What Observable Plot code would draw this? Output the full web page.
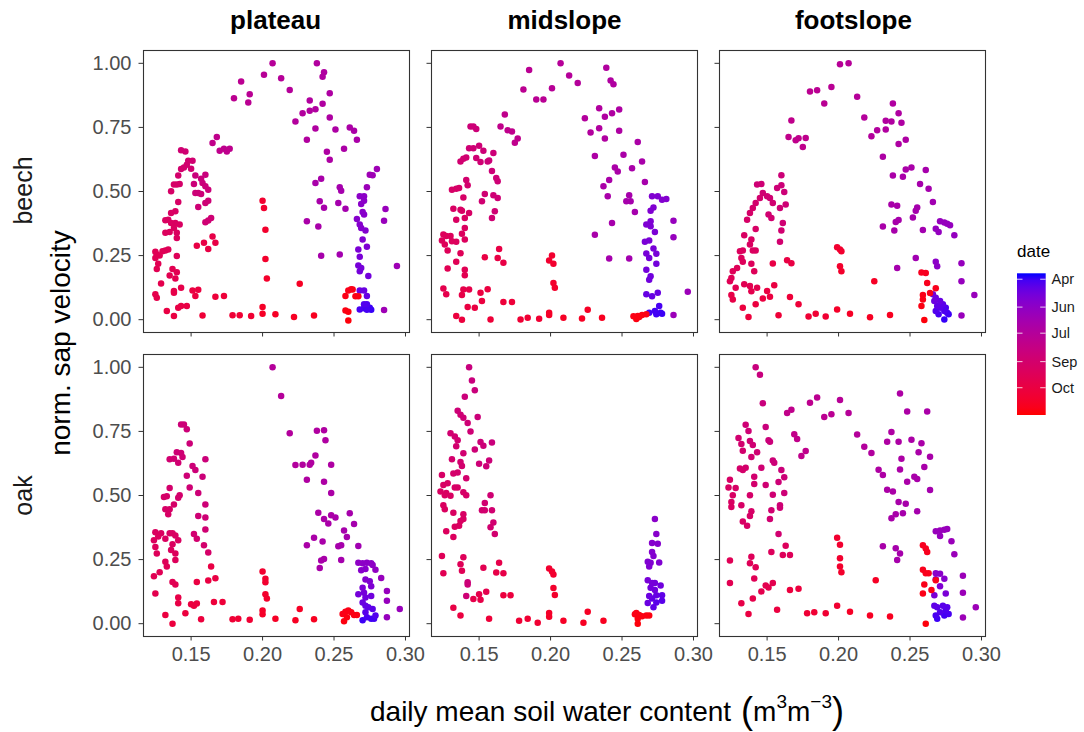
<!DOCTYPE html>
<html><head><meta charset="utf-8">
<script src="https://cdn.jsdelivr.net/npm/d3@7"></script>
<script src="https://cdn.jsdelivr.net/npm/@observablehq/plot@0.6"></script>
<style>
html,body{margin:0;padding:0;background:#fff;}
#wrap{position:relative;width:1084px;height:732px;overflow:hidden;background:#fff;font-family:"Liberation Sans",Arial,sans-serif;}
#wrap svg{position:absolute;left:0;top:0;}
</style></head><body><div id="wrap"></div>
<script>
const sites = ["plateau","midslope","footslope"];
const species = ["beech","oak"];
const xTicks = [0.15,0.20,0.25,0.30];
const yTicks = [0,0.25,0.5,0.75,1];
const dateDomain = [95, 334];
const legendTicks = [105,152,196,244,288];
const legendLabels = ["Apr","Jun","Jul","Sep","Oct"];

// [soil water content, normalised sap velocity, day of year]
const beechPlateau = [[0.207,1.00,198],[0.238,1.00,192],[0.201,0.955,200],[0.213,0.942,198],[0.243,0.965,190],[0.242,0.948,190],[0.185,0.929,205],[0.219,0.896,197],[0.191,0.879,203],[0.180,0.864,206],[0.190,0.847,204],[0.247,0.883,188],[0.233,0.855,192],[0.242,0.842,190],[0.228,0.805,193],[0.233,0.815,192],[0.237,0.821,191],[0.247,0.789,188],[0.223,0.773,194],[0.237,0.746,190],[0.251,0.742,186],[0.261,0.750,184],[0.264,0.737,183],[0.231,0.702,192],[0.266,0.702,182],[0.257,0.667,184],[0.245,0.655,188],[0.247,0.624,187],
[0.168,0.713,212],[0.165,0.689,213],[0.170,0.659,211],[0.173,0.667,210],[0.175,0.656,210],[0.177,0.667,209],
[0.280,0.588,168],[0.275,0.565,168],[0.277,0.563,168],[0.237,0.533,180],[0.241,0.550,180],[0.254,0.517,176],[0.255,0.503,176],[0.273,0.517,165],[0.253,0.455,176],[0.240,0.462,180],[0.243,0.437,179],[0.258,0.433,175],[0.231,0.384,182],[0.239,0.363,180],[0.241,0.249,178],[0.254,0.254,174],[0.286,0.432,162],[0.285,0.386,162],[0.294,0.209,168],[0.285,0.038,168],
[0.268,0.481,150],[0.271,0.481,150],[0.269,0.451,148],[0.271,0.464,149],[0.270,0.420,147],[0.271,0.410,146],[0.266,0.393,145],[0.268,0.371,144],[0.269,0.358,143],[0.272,0.348,142],[0.270,0.313,140],[0.273,0.284,138],[0.267,0.274,137],[0.268,0.245,135],[0.267,0.211,133],[0.269,0.202,132],[0.268,0.189,131],[0.274,0.170,130],[0.268,0.114,125],[0.271,0.114,124],[0.273,0.092,122],
[0.268,0.040,108],[0.271,0.045,106],[0.273,0.060,110],[0.275,0.047,104],[0.276,0.039,102],[0.273,0.039,107],[0.271,0.060,112],
[0.260,0.114,322],[0.262,0.119,322],[0.263,0.118,323],[0.258,0.092,324],[0.265,0.091,325],[0.267,0.091,325],[0.258,0.036,327],[0.260,0.031,328],[0.260,-0.003,330],
[0.200,0.464,305],[0.201,0.436,306],[0.202,0.351,307],[0.202,0.237,308],[0.203,0.161,309],[0.200,0.049,312],[0.200,0.023,313],[0.226,0.140,315],
[0.179,0.017,300],[0.184,0.017,301],[0.192,0.014,302],[0.209,0.021,314],[0.222,0.010,316],[0.236,0.016,318],[0.158,0.016,298],
[0.167,0.089,295],[0.173,0.092,296],[0.154,0.288,285],[0.159,0.300,284],[0.162,0.276,285],[0.165,0.324,283],[0.167,0.300,284],[0.151,0.114,290],[0.153,0.092,291],[0.155,0.117,290],
[0.143,0.661,238],[0.146,0.656,238],[0.148,0.620,240],[0.151,0.620,240],[0.147,0.604,241],[0.145,0.594,242],[0.143,0.588,243],[0.150,0.589,241],[0.141,0.562,245],[0.140,0.527,248],[0.138,0.527,249],[0.142,0.529,247],[0.136,0.501,250],[0.141,0.459,252],
[0.139,0.423,254],[0.136,0.416,255],[0.134,0.390,256],[0.132,0.388,257],[0.136,0.377,257],[0.139,0.377,256],[0.142,0.371,255],[0.138,0.358,258],[0.140,0.339,258],[0.140,0.319,259],[0.135,0.342,259],[0.132,0.339,260],
[0.153,0.562,228],[0.157,0.550,228],[0.158,0.533,229],[0.160,0.565,227],[0.160,0.520,230],[0.152,0.529,230],[0.162,0.507,231],[0.153,0.494,232],[0.155,0.494,232],[0.157,0.490,233],[0.162,0.464,234],[0.160,0.455,234],[0.155,0.440,235],[0.164,0.397,236],[0.162,0.387,237],[0.160,0.380,237],
[0.125,0.265,268],[0.126,0.254,268],[0.125,0.241,269],[0.128,0.250,268],[0.130,0.267,267],[0.132,0.270,266],[0.134,0.274,266],[0.127,0.218,270],[0.126,0.198,271],[0.140,0.248,265],[0.137,0.198,272],[0.140,0.185,272],[0.135,0.172,273],[0.139,0.161,274],[0.129,0.141,276],[0.125,0.099,278],[0.126,0.086,279],[0.138,0.112,280],[0.138,0.105,281],[0.143,0.125,280],[0.141,0.047,284],[0.143,0.053,285],[0.147,0.053,286],[0.133,0.034,287],[0.138,0.014,288]];

const beechMidslope = [[0.207,1.00,198],[0.239,0.983,192],[0.185,0.974,204],[0.213,0.952,197],[0.219,0.923,196],[0.242,0.933,190],[0.244,0.918,190],[0.201,0.903,200],[0.181,0.898,205],[0.190,0.859,203],[0.195,0.859,202],[0.234,0.825,192],[0.248,0.820,188],[0.243,0.805,189],[0.238,0.792,190],[0.168,0.800,212],[0.224,0.786,194],[0.234,0.747,191],[0.248,0.737,188],[0.228,0.730,193],[0.238,0.707,190],[0.165,0.754,213],[0.170,0.739,212],[0.173,0.734,211],[0.177,0.707,210],[0.175,0.690,211],[0.261,0.693,184],[0.231,0.638,186],[0.251,0.643,183],[0.264,0.617,180],[0.257,0.591,181],[0.245,0.594,183],[0.247,0.578,183],[0.266,0.537,178],[0.241,0.545,182],[0.237,0.520,182],[0.240,0.481,181],[0.255,0.485,178],[0.253,0.462,178],[0.256,0.462,177],[0.259,0.420,176],[0.243,0.377,178],[0.231,0.331,180],[0.241,0.239,176],[0.255,0.239,174],[0.286,0.386,160],[0.286,0.322,160],[0.296,0.109,165],[0.286,0.018,165],
[0.271,0.481,140],[0.275,0.481,140],[0.278,0.468,142],[0.281,0.471,142],[0.272,0.438,140],[0.270,0.425,140],[0.270,0.384,138],[0.267,0.371,138],[0.270,0.364,137],[0.273,0.342,136],[0.269,0.309,135],[0.266,0.304,135],[0.272,0.278,134],[0.267,0.258,133],[0.269,0.241,132],[0.274,0.257,133],[0.274,0.218,130],[0.267,0.195,130],[0.270,0.169,128],[0.269,0.156,128],[0.267,0.099,122],[0.271,0.091,122],[0.275,0.105,123],
[0.269,0.027,106],[0.273,0.034,106],[0.276,0.053,108],[0.277,0.027,104],[0.278,0.023,104],[0.274,0.021,105],
[0.258,0.013,325],[0.261,0.014,325],[0.264,0.018,326],[0.267,0.021,326],[0.260,0.003,327],[0.262,0.010,327],
[0.201,0.250,305],[0.199,0.231,306],[0.202,0.218,306],[0.202,0.143,308],[0.203,0.125,308],[0.199,0.027,312],[0.199,0.018,312],[0.226,0.039,314],
[0.179,0.001,300],[0.184,0.008,301],[0.192,0.004,302],[0.209,0.008,314],[0.222,0.005,316],[0.236,0.008,318],[0.158,0.001,297],
[0.167,0.069,295],[0.173,0.069,296],[0.164,0.276,284],[0.167,0.222,285],[0.163,0.241,285],[0.154,0.244,286],[0.151,0.105,290],[0.152,0.073,291],[0.156,0.119,290],[0.142,0.049,288],[0.147,0.047,289],[0.134,0.014,292],[0.138,0.000,293],
[0.144,0.754,232],[0.146,0.754,232],[0.148,0.744,233],[0.143,0.669,236],[0.146,0.669,236],[0.150,0.678,235],[0.153,0.659,234],[0.148,0.631,237],[0.151,0.615,237],[0.137,0.617,240],[0.139,0.628,240],[0.141,0.633,239],[0.157,0.621,233],[0.156,0.617,233],[0.160,0.650,232],[0.159,0.580,234],[0.162,0.553,235],[0.163,0.540,235],[0.141,0.545,243],[0.142,0.524,244],[0.131,0.507,250],[0.134,0.511,249],[0.136,0.514,248],[0.139,0.477,250],[0.154,0.490,238],[0.152,0.462,239],[0.160,0.485,236],[0.163,0.475,236],[0.161,0.423,237],[0.159,0.397,238],[0.132,0.433,254],[0.137,0.429,253],[0.138,0.425,253],[0.140,0.397,255],[0.134,0.390,256],[0.143,0.416,252],[0.140,0.358,258],[0.138,0.335,259],[0.140,0.313,260],[0.125,0.332,262],[0.127,0.326,262],[0.130,0.326,262],[0.124,0.309,263],[0.126,0.293,264],[0.128,0.270,265],[0.131,0.306,262],[0.134,0.304,261],[0.137,0.259,266],[0.134,0.226,268],[0.128,0.200,270],[0.140,0.195,270],[0.140,0.173,272],[0.125,0.122,276],[0.127,0.099,278],[0.139,0.118,280],[0.143,0.118,280],[0.138,0.096,282]];

const beechFootslope = [[0.201,0.996,200],[0.207,1.00,198],[0.195,0.908,202],[0.180,0.890,205],[0.185,0.895,204],[0.190,0.843,203],[0.213,0.870,197],[0.238,0.843,190],[0.242,0.805,189],[0.167,0.777,212],[0.218,0.789,195],[0.233,0.776,191],[0.237,0.773,190],[0.244,0.768,188],[0.227,0.739,193],[0.233,0.742,191],[0.223,0.716,194],[0.165,0.713,213],[0.170,0.700,212],[0.172,0.708,211],[0.177,0.709,210],[0.175,0.674,211],[0.247,0.702,187],[0.242,0.685,188],[0.231,0.636,186],[0.238,0.562,182],[0.245,0.558,181],[0.247,0.586,182],[0.251,0.594,181],[0.261,0.584,178],[0.257,0.529,178],[0.263,0.511,176],[0.266,0.459,172],[0.237,0.449,180],[0.241,0.444,180],[0.255,0.438,177],[0.254,0.425,177],[0.252,0.399,177],[0.242,0.389,179],[0.240,0.381,179],[0.231,0.363,181],[0.239,0.348,179],[0.259,0.350,174],[0.271,0.384,160],[0.274,0.379,160],[0.276,0.374,159],[0.278,0.368,159],[0.268,0.355,158],[0.270,0.342,158],[0.281,0.329,158],[0.254,0.241,172],[0.241,0.202,176],[0.268,0.226,150],[0.269,0.208,150],[0.286,0.220,160],[0.286,0.150,160],[0.295,0.096,162],[0.286,0.016,162],
[0.266,0.099,130],[0.267,0.073,125],[0.269,0.053,118],[0.271,0.047,115],[0.274,0.034,110],[0.276,0.027,106],[0.277,0.021,104],[0.274,0.001,102],[0.270,0.021,108],[0.268,0.034,112],[0.273,0.060,116],[0.275,0.047,110],[0.268,0.086,128],[0.271,0.073,122],
[0.258,0.184,318],[0.261,0.182,318],[0.262,0.143,320],[0.268,0.123,321],[0.264,0.104,322],[0.259,0.096,323],[0.259,0.079,324],[0.258,0.053,326],[0.260,-0.001,330],
[0.199,0.283,305],[0.201,0.274,305],[0.202,0.267,306],[0.201,0.208,307],[0.202,0.189,308],[0.225,0.150,314],[0.199,0.040,311],[0.208,0.023,313],[0.222,0.009,316],[0.236,0.018,318],[0.191,0.012,302],[0.184,0.023,301],[0.179,0.012,300],[0.158,0.017,297],[0.137,0.010,294],[0.166,0.088,296],[0.172,0.060,297],[0.164,0.232,286],[0.167,0.220,286],[0.154,0.219,284],[0.155,0.134,288],[0.152,0.089,290],[0.150,0.112,289],[0.147,0.083,290],[0.142,0.060,291],[0.133,0.047,292],[0.125,0.096,282],[0.126,0.079,283],
[0.160,0.563,232],[0.143,0.527,236],[0.146,0.529,236],[0.157,0.514,234],[0.160,0.524,233],[0.162,0.498,233],[0.147,0.494,238],[0.150,0.481,238],[0.152,0.475,238],[0.154,0.455,239],[0.145,0.475,242],[0.142,0.455,244],[0.140,0.436,246],[0.138,0.416,248],[0.159,0.436,236],[0.163,0.449,235],[0.151,0.410,240],[0.153,0.397,240],[0.161,0.377,238],[0.160,0.348,240],[0.159,0.304,242],[0.136,0.390,250],[0.142,0.354,252],[0.134,0.329,255],[0.139,0.313,256],[0.138,0.293,257],[0.131,0.267,260],[0.133,0.270,259],[0.140,0.270,258],[0.142,0.270,258],[0.132,0.241,262],[0.133,0.226,263],[0.129,0.202,265],[0.126,0.189,266],[0.125,0.163,268],[0.124,0.150,269],[0.128,0.125,272],[0.134,0.138,271],[0.138,0.131,272],[0.143,0.125,274],[0.139,0.111,276],[0.139,0.218,262],[0.141,0.189,265]];

const oakPlateau = [[0.207,1.00,196],[0.213,0.888,196],[0.219,0.743,194],[0.238,0.753,190],[0.243,0.755,189],[0.244,0.716,189],[0.237,0.656,190],[0.234,0.628,190],[0.233,0.620,190],[0.223,0.619,193],[0.228,0.620,192],[0.248,0.620,188],[0.231,0.561,189],[0.243,0.554,186],[0.248,0.510,184],[0.239,0.433,184],[0.248,0.423,182],[0.251,0.414,181],[0.243,0.408,183],[0.246,0.391,182],[0.261,0.431,178],[0.264,0.389,176],[0.257,0.363,178],[0.259,0.338,177],[0.236,0.335,182],[0.242,0.321,181],[0.231,0.306,183],[0.253,0.302,178],[0.255,0.306,178],[0.267,0.303,172],[0.243,0.252,180],[0.241,0.246,180],[0.255,0.248,176],[0.240,0.217,180],
[0.267,0.238,152],[0.270,0.236,150],[0.273,0.238,150],[0.276,0.236,150],[0.277,0.229,152],[0.269,0.208,146],[0.272,0.213,146],[0.279,0.210,155],[0.283,0.178,160],[0.272,0.172,142],[0.275,0.166,140],[0.276,0.146,138],[0.270,0.140,136],[0.267,0.115,132],[0.271,0.121,132],[0.272,0.102,128],[0.276,0.108,128],[0.270,0.083,124],[0.272,0.070,120],[0.274,0.064,118],[0.277,0.057,116],[0.279,0.032,112],[0.273,0.025,108],[0.270,0.013,104],[0.276,0.019,106],[0.278,0.019,106],[0.272,0.045,114],[0.287,0.127,160],[0.287,0.089,160],[0.287,0.025,160],[0.296,0.057,162],
[0.256,0.038,324],[0.258,0.047,324],[0.260,0.051,325],[0.262,0.045,325],[0.264,0.034,326],[0.266,0.034,326],[0.257,0.009,328],[0.259,0.025,327],
[0.200,0.204,305],[0.202,0.175,306],[0.202,0.162,306],[0.202,0.115,308],[0.203,0.098,308],[0.200,0.051,311],[0.200,0.037,312],[0.226,0.057,314],[0.223,0.013,316],[0.236,0.017,318],[0.209,0.019,313],[0.179,0.017,300],[0.183,0.019,301],[0.191,0.015,302],[0.166,0.085,295],[0.172,0.085,296],[0.164,0.223,286],[0.167,0.177,287],[0.162,0.168,288],[0.154,0.163,288],[0.154,0.079,290],[0.157,0.017,293],[0.150,0.076,290],[0.152,0.070,291],[0.146,0.041,292],[0.141,0.102,282],[0.141,0.080,284],[0.132,0.034,290],[0.137,0.000,292],
[0.143,0.777,232],[0.145,0.777,232],[0.147,0.758,232],[0.149,0.703,232],[0.140,0.669,236],[0.143,0.666,236],[0.144,0.650,237],[0.135,0.641,240],[0.138,0.643,239],[0.141,0.628,239],[0.160,0.641,230],[0.151,0.615,232],[0.153,0.599,232],[0.147,0.577,235],[0.158,0.573,231],[0.149,0.531,236],[0.155,0.510,234],[0.135,0.529,244],[0.131,0.494,248],[0.133,0.497,247],[0.142,0.501,244],[0.141,0.491,244],[0.138,0.465,248],[0.135,0.446,250],[0.132,0.446,251],[0.134,0.427,252],[0.160,0.465,234],[0.155,0.420,236],[0.160,0.414,236],[0.160,0.367,238],[0.152,0.350,240],[0.154,0.331,242],[0.159,0.306,244],[0.162,0.278,248],[0.125,0.357,258],[0.129,0.353,258],[0.127,0.340,259],[0.124,0.325,260],[0.125,0.299,262],[0.126,0.274,264],[0.132,0.331,258],[0.135,0.353,256],[0.137,0.353,256],[0.139,0.344,256],[0.141,0.325,257],[0.137,0.310,258],[0.136,0.287,260],[0.139,0.274,261],[0.139,0.248,263],[0.132,0.242,265],[0.133,0.223,266],[0.128,0.201,268],[0.124,0.185,270],[0.137,0.163,270],[0.139,0.153,271],[0.125,0.118,275]];

const oakMidslope = [[0.143,1.00,226],[0.145,0.949,227],[0.147,0.911,228],[0.140,0.885,230],[0.135,0.831,234],[0.137,0.815,235],[0.139,0.803,235],[0.142,0.783,235],[0.149,0.806,230],[0.144,0.750,236],[0.130,0.743,240],[0.133,0.730,240],[0.135,0.716,240],[0.134,0.692,242],[0.151,0.709,232],[0.153,0.694,232],[0.147,0.679,234],[0.159,0.707,228],[0.139,0.665,240],[0.131,0.641,244],[0.137,0.631,242],[0.138,0.615,243],[0.157,0.637,232],[0.155,0.614,233],[0.150,0.624,234],[0.132,0.586,246],[0.135,0.590,245],[0.141,0.567,244],[0.124,0.580,252],[0.125,0.541,254],[0.128,0.548,253],[0.127,0.510,255],[0.130,0.499,255],[0.123,0.516,256],[0.133,0.531,252],[0.135,0.531,251],[0.139,0.513,250],[0.141,0.501,249],[0.126,0.501,256],[0.158,0.501,238],[0.154,0.471,240],[0.152,0.442,242],[0.154,0.442,242],[0.159,0.442,240],[0.125,0.462,258],[0.126,0.446,258],[0.132,0.433,256],[0.139,0.427,254],[0.139,0.408,255],[0.137,0.401,256],[0.133,0.378,258],[0.136,0.382,257],[0.132,0.338,260],[0.127,0.361,260],[0.160,0.395,240],[0.158,0.376,241],[0.161,0.350,242],[0.124,0.264,266],[0.125,0.197,270],[0.139,0.259,264],[0.137,0.232,266],[0.138,0.206,268],[0.153,0.218,272],[0.164,0.238,280],[0.167,0.197,282],[0.162,0.200,282],[0.142,0.162,232],[0.142,0.153,233],[0.141,0.108,235],[0.146,0.096,280],[0.150,0.115,278],[0.151,0.093,282],[0.155,0.125,276],[0.167,0.111,292],[0.172,0.111,292],[0.132,0.062,285],[0.137,0.032,290],[0.157,0.019,296],[0.178,0.011,300],[0.184,0.019,301],[0.191,0.004,302],[0.209,0.011,313],[0.223,0.004,316],[0.237,0.011,318],[0.199,0.215,305],[0.201,0.204,306],[0.202,0.192,306],[0.202,0.139,308],[0.203,0.112,308],[0.199,0.042,311],[0.199,0.027,312],[0.226,0.047,314],
[0.259,0.037,325],[0.260,0.042,325],[0.262,0.034,326],[0.264,0.029,326],[0.267,0.032,326],[0.269,0.032,327],[0.261,0.019,328],[0.261,0.000,330],
[0.273,0.408,148],[0.274,0.350,146],[0.271,0.315,144],[0.275,0.312,144],[0.271,0.280,142],[0.272,0.264,142],[0.268,0.242,140],[0.270,0.238,140],[0.269,0.223,140],[0.276,0.239,140],[0.268,0.169,134],[0.271,0.159,132],[0.273,0.159,130],[0.277,0.149,128],[0.270,0.140,130],[0.273,0.131,128],[0.269,0.108,125],[0.274,0.111,122],[0.278,0.111,118],[0.271,0.098,120],[0.274,0.083,116],[0.278,0.089,115],[0.268,0.081,124],[0.272,0.064,118]];

const oakFootslope = [[0.142,1.00,226],[0.145,0.971,226],[0.147,0.860,227],[0.243,0.898,186],[0.248,0.828,185],[0.262,0.828,182],[0.180,0.862,208],[0.185,0.882,206],[0.201,0.873,200],[0.190,0.806,205],[0.195,0.817,204],[0.207,0.822,198],[0.164,0.822,214],[0.167,0.834,212],[0.149,0.767,228],[0.135,0.776,236],[0.137,0.752,236],[0.130,0.724,240],[0.132,0.701,242],[0.133,0.675,243],[0.138,0.713,238],[0.140,0.697,238],[0.143,0.669,238],[0.151,0.716,230],[0.152,0.710,230],[0.169,0.739,214],[0.171,0.720,213],[0.177,0.674,212],[0.174,0.654,212],[0.213,0.738,196],[0.218,0.690,194],[0.223,0.666,192],[0.237,0.748,188],[0.242,0.710,186],[0.234,0.710,188],[0.251,0.717,184],[0.258,0.704,182],[0.256,0.669,182],[0.264,0.651,180],[0.244,0.643,185],[0.260,0.611,180],[0.243,0.601,184],[0.228,0.600,188],[0.231,0.580,186],[0.253,0.573,180],[0.255,0.564,180],[0.248,0.554,182],[0.264,0.521,176],[0.234,0.522,184],[0.238,0.516,183],[0.242,0.475,180],[0.247,0.468,179],[0.255,0.439,176],[0.237,0.411,180],[0.240,0.427,180],[0.245,0.431,178],
[0.154,0.637,232],[0.155,0.628,232],[0.160,0.599,230],[0.139,0.650,240],[0.131,0.605,246],[0.133,0.599,246],[0.135,0.608,245],[0.146,0.608,238],[0.141,0.573,242],[0.149,0.541,238],[0.158,0.553,234],[0.162,0.571,232],[0.124,0.561,252],[0.123,0.531,254],[0.128,0.529,252],[0.126,0.501,254],[0.125,0.475,256],[0.125,0.455,257],[0.141,0.545,244],[0.138,0.501,248],[0.132,0.462,252],[0.139,0.439,250],[0.138,0.420,251],[0.133,0.399,253],[0.136,0.382,252],[0.154,0.503,238],[0.159,0.462,236],[0.159,0.452,236],[0.153,0.442,240],[0.152,0.408,240],[0.162,0.510,234],[0.158,0.350,240],
[0.163,0.304,262],[0.166,0.268,265],[0.161,0.268,264],[0.153,0.280,262],[0.124,0.246,268],[0.124,0.159,272],[0.139,0.261,264],[0.138,0.236,266],[0.142,0.220,266],[0.141,0.176,268],[0.140,0.098,280],[0.132,0.080,282],[0.137,0.038,288],[0.146,0.126,276],[0.149,0.149,275],[0.151,0.141,276],[0.154,0.159,275],[0.157,0.054,290],[0.166,0.131,292],[0.172,0.136,292],[0.178,0.041,300],[0.183,0.045,301],[0.191,0.041,302],[0.199,0.070,304],[0.208,0.047,313],[0.222,0.032,316],[0.236,0.028,318],[0.199,0.335,305],[0.201,0.308,305],[0.201,0.255,306],[0.201,0.223,307],[0.202,0.201,308],[0.226,0.169,314],
[0.231,0.302,180],[0.240,0.294,178],[0.243,0.274,178],[0.241,0.248,178],
[0.259,0.306,318],[0.261,0.293,318],[0.262,0.280,319],[0.259,0.210,321],[0.261,0.197,321],[0.263,0.197,322],[0.260,0.153,323],[0.259,0.118,324],[0.265,0.131,324],[0.268,0.169,322],[0.261,0.000,330],
[0.268,0.361,162],[0.271,0.363,162],[0.274,0.366,162],[0.276,0.369,162],[0.271,0.342,160],[0.279,0.322,164],[0.281,0.271,164],[0.287,0.187,165],[0.287,0.121,165],[0.296,0.064,166],[0.287,0.024,166],
[0.268,0.197,148],[0.271,0.195,148],[0.274,0.175,145],[0.268,0.173,145],[0.271,0.146,140],[0.267,0.111,135],[0.275,0.118,135],
[0.267,0.070,118],[0.269,0.064,116],[0.273,0.070,115],[0.275,0.051,110],[0.277,0.038,108],[0.274,0.032,106],[0.271,0.045,112],[0.269,0.019,104],[0.268,0.032,108],[0.276,0.064,114]];

const panels = [
  ["plateau","beech",beechPlateau],["midslope","beech",beechMidslope],["footslope","beech",beechFootslope],
  ["plateau","oak",oakPlateau],["midslope","oak",oakMidslope],["footslope","oak",oakFootslope]
];
const rows = [];
for (const [site, sp, arr] of panels) for (const [swc, sap, doy] of arr) rows.push({site, species: sp, swc, sap, doy});
rows.sort((a, b) => a.doy - b.doy);

const W = 1084, H = 732, mL = 142, mR = 97, mT = 49, mB = 95;
const FONT = "'Liberation Sans', Arial, Helvetica, sans-serif";

const plot = Plot.plot({
  width: W, height: H,
  marginLeft: mL, marginRight: mR, marginTop: mT, marginBottom: mB,
  style: {fontFamily: FONT, background: "transparent", overflow: "visible"},
  x: {domain: [0.1167, 0.3028], label: null},
  y: {domain: [-0.05, 1.05], label: null},
  fx: {domain: sites, paddingInner: 0.075, paddingOuter: 0, axis: null, label: null},
  fy: {domain: species, paddingInner: 0.072, paddingOuter: 0, axis: null, label: null},
  color: {type: "linear", domain: dateDomain, range: ["#0000ff", "#ff0000"], interpolate: d3.interpolateLab},
  marks: [
    Plot.dot(rows, {x: "swc", y: "sap", fx: "site", fy: "species", fill: "doy", r: 3.25}),
    Plot.frame({stroke: "#333333", strokeWidth: 1.1}),
    Plot.axisX(xTicks, {anchor: "bottom", facetAnchor: null, tickSize: 4.5, stroke: "#333333", fill: "none", label: null}),
    Plot.axisX(xTicks, {anchor: "bottom", tickSize: 0, tickPadding: 10, fill: "#4d4d4d", fontSize: 20, label: null, tickFormat: d3.format(".2f")}),
    Plot.axisY(yTicks, {anchor: "left", facetAnchor: null, tickSize: 4.5, stroke: "#333333", fill: "none", label: null}),
    Plot.axisY(yTicks, {anchor: "left", tickSize: 0, tickPadding: 12, fill: "#4d4d4d", fontSize: 20, label: null, tickFormat: d3.format(".2f")})
  ]
});
const wrap = document.getElementById("wrap");
wrap.appendChild(plot);

// facet band positions from Plot's own fx / fy scales
function band(s, fallbackRange) {
  return d3.scaleBand(s.domain, s.range || fallbackRange)
    .paddingInner(s.paddingInner ?? 0.1).paddingOuter(s.paddingOuter ?? 0).align(s.align ?? 0.5);
}
const bx = band(plot.scale("fx"), [mL, W - mR]);
const by = band(plot.scale("fy"), [mT, H - mB]);

const svg = d3.select(wrap).append("svg").attr("width", W).attr("height", H)
  .attr("font-family", FONT);

// column strip titles
svg.selectAll("text.col").data(sites).join("text").attr("class", "col")
  .attr("x", d => bx(d) + bx.bandwidth() / 2).attr("y", 29)
  .attr("text-anchor", "middle").attr("font-size", 26).attr("font-weight", "bold").attr("fill", "#000")
  .text(d => d);

// row strip titles
svg.selectAll("text.row").data(species).join("text").attr("class", "row")
  .attr("transform", d => `translate(32,${by(d) + by.bandwidth() / 2}) rotate(-90)`)
  .attr("text-anchor", "middle").attr("font-size", 25).attr("fill", "#1a1a1a")
  .text(d => d);

// y title
svg.append("text")
  .attr("transform", `translate(70,${(mT + H - mB) / 2}) rotate(-90)`)
  .attr("text-anchor", "middle").attr("font-size", 28).attr("fill", "#000")
  .text("norm. sap velocity");

// x title
const xt = svg.append("text").attr("x", 370).attr("y", 721).attr("font-size", 28).attr("fill", "#000");
xt.append("tspan").text("daily mean soil water content");
xt.append("tspan").attr("dx", 10).attr("dy", 2).attr("font-size", 36).text("(");
xt.append("tspan").attr("dy", -2).text("m");
xt.append("tspan").attr("dy", -13).attr("font-size", 19).text("3");
xt.append("tspan").attr("dy", 13).text("m");
xt.append("tspan").attr("dy", -13).attr("font-size", 19).text("\u22123");
xt.append("tspan").attr("dy", 15).attr("font-size", 36).text(")");

// colour bar legend
const col = d3.scaleLinear().domain(dateDomain).range(["#0000ff", "#ff0000"]).interpolate(d3.interpolateLab);
const ly = d3.scaleLinear().domain(dateDomain).range([273.3, 415]);
const lx0 = 1017, lw = 28.7;
const grad = svg.append("defs").append("linearGradient").attr("id", "dg")
  .attr("x1", 0).attr("x2", 0).attr("y1", 0).attr("y2", 1);
d3.range(0, 1.0001, 0.05).forEach(t => {
  grad.append("stop").attr("offset", t).attr("stop-color", col(dateDomain[0] + t * (dateDomain[1] - dateDomain[0])));
});
svg.append("rect").attr("x", lx0).attr("y", ly(dateDomain[0])).attr("width", lw)
  .attr("height", ly(dateDomain[1]) - ly(dateDomain[0])).attr("fill", "url(#dg)");
const lt = svg.append("g");
legendTicks.forEach((d, i) => {
  const y = ly(d);
  lt.append("line").attr("x1", lx0).attr("x2", lx0 + 5.5).attr("y1", y).attr("y2", y).attr("stroke", "#fff").attr("stroke-opacity", 0.8);
  lt.append("line").attr("x1", lx0 + lw - 5.5).attr("x2", lx0 + lw).attr("y1", y).attr("y2", y).attr("stroke", "#fff").attr("stroke-opacity", 0.8);
  lt.append("text").attr("x", 1051.5).attr("y", y).attr("dy", "0.35em").attr("font-size", 14.5).attr("fill", "#1a1a1a").text(legendLabels[i]);
});
svg.append("text").attr("x", 1017).attr("y", 257).attr("font-size", 17).attr("fill", "#000").text("date");
</script></body></html>
